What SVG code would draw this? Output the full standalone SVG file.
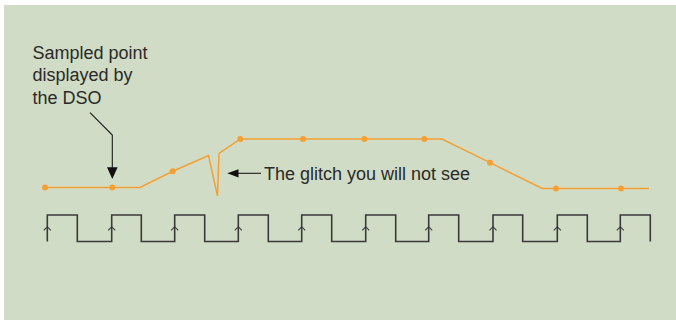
<svg xmlns="http://www.w3.org/2000/svg" width="676" height="320" viewBox="0 0 676 320">
<style>
.lbl{font-family:"Liberation Sans",Arial,Helvetica,sans-serif;font-size:18px;fill:#2a2a2a}
.sig{fill:none;stroke:#F5A035;stroke-width:1.5;stroke-linejoin:miter}
.dot{fill:#F5A035}
.clk{fill:none;stroke:#3a3a3a;stroke-width:1.6}
.chev{fill:none;stroke:#3a3a3a;stroke-width:1.1}
.ptr{fill:none;stroke:#1a1a1a;stroke-width:1.1}
.head{fill:#111}
</style>
<rect x="0" y="0" width="676" height="320" fill="#ffffff"/>
<rect x="4" y="5" width="672" height="315" fill="#D0DCC5"/>

<g id="signal">
<polyline class="sig" points="45,187.5 140,187.5 172.7,171.3 208.5,155.5 217.5,196 219,153.5 240.3,139 442,139 490,162.7 542.3,188.5 649,188.5"/>
<circle class="dot" cx="45" cy="187.5" r="3"/>
<circle class="dot" cx="112.3" cy="187.5" r="3"/>
<circle class="dot" cx="172.7" cy="171.3" r="3"/>
<circle class="dot" cx="240.3" cy="139" r="3"/>
<circle class="dot" cx="303" cy="139" r="3"/>
<circle class="dot" cx="364.3" cy="139" r="3"/>
<circle class="dot" cx="424.3" cy="139" r="3"/>
<circle class="dot" cx="490" cy="162.7" r="3"/>
<circle class="dot" cx="556" cy="188.5" r="3"/>
<circle class="dot" cx="621" cy="188.5" r="3"/>
</g>

<g id="clock">
<path class="clk" d="M47.3,241.5 V215 H77.3 V241.5 H111.7 V215 H141.3 V241.5 H174.7 V215 H204.7 V241.5 H238.3 V215 H268.3 V241.5 H301.7 V215 H331.7 V241.5 H365.7 V215 H395.7 V241.5 H428.7 V215 H458.7 V241.5 H493 V215 H522.7 V241.5 H557.3 V215 H587.3 V241.5 H620.3 V215 H650.3 V241.5"/>
<g class="chev">
<polyline points="43.8,230.3 47.3,226.7 50.8,230.3"/>
<polyline points="108.2,230.3 111.7,226.7 115.2,230.3"/>
<polyline points="171.2,230.3 174.7,226.7 178.2,230.3"/>
<polyline points="234.8,230.3 238.3,226.7 241.8,230.3"/>
<polyline points="298.2,230.3 301.7,226.7 305.2,230.3"/>
<polyline points="362.2,230.3 365.7,226.7 369.2,230.3"/>
<polyline points="425.2,230.3 428.7,226.7 432.2,230.3"/>
<polyline points="489.5,230.3 493,226.7 496.5,230.3"/>
<polyline points="553.8,230.3 557.3,226.7 560.8,230.3"/>
<polyline points="616.8,230.3 620.3,226.7 623.8,230.3"/>
</g>
</g>

<g id="label-sampled">
<text class="lbl" x="32.5" y="58.5">Sampled point</text>
<text class="lbl" x="32.5" y="81">displayed by</text>
<text class="lbl" x="32.5" y="103.5">the DSO</text>
</g>

<g id="label-glitch">
<text class="lbl" x="264" y="180">The glitch you will not see</text>
</g>

<g id="connectors">
<polyline class="ptr" points="90,112.7 112.3,135 112.3,168"/>
<polygon class="head" points="107,167.3 117.6,167.3 112.3,179"/>
<line class="ptr" x1="237" y1="173.3" x2="261" y2="173.3"/>
<polygon class="head" points="227.3,173.3 238.5,169.2 238.5,177.4"/>
</g>
</svg>
